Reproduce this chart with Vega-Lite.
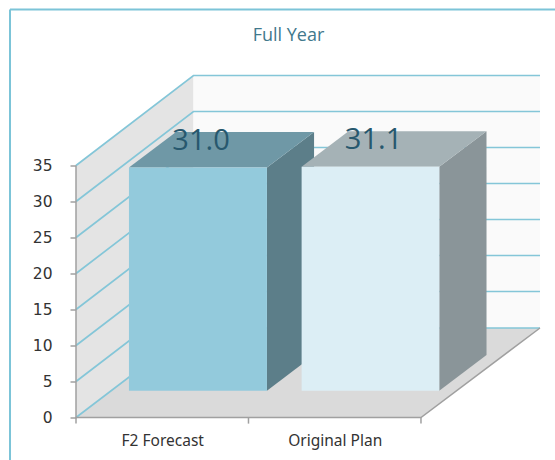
{
  "$schema": "https://vega.github.io/schema/vega-lite/v6.json",
  "width": 479,
  "height": 408,
  "autosize": "none",
  "padding": {"left": 76, "top": 9.5, "right": 0, "bottom": 42.5},
  "background": "white",
  "config": {"view": {"stroke": null}},
  "title": {
    "text": "Full Year",
    "font": "Open Sans",
    "fontSize": 18,
    "fontWeight": "normal",
    "color": "#41788c",
    "anchor": "middle",
    "frame": "group",
    "dx": -27,
    "offset": -37
  },
  "datasets": {
    "walls": [
      {"face": "side wall", "x": 0, "y": 0, "y2": 35},
      {"face": "side wall", "x": 0.681, "y": 12.43, "y2": 47.5},
      {"face": "back wall", "x": 0.681, "y": 12.43, "y2": 47.5},
      {"face": "back wall", "x": 2.69, "y": 12.43, "y2": 47.5}
    ],
    "floor": [
      {"face": "floor", "y": 0, "x": 0, "x2": 2},
      {"face": "floor", "y": 12.43, "x": 0.681, "x2": 2.69}
    ],
    "gridlines": [
      {"level": 0, "x": 0, "y": 0}, {"level": 0, "x": 0.681, "y": 12.43}, {"level": 0, "x": 2.69, "y": 12.43},
      {"level": 5, "x": 0, "y": 5}, {"level": 5, "x": 0.681, "y": 17.5}, {"level": 5, "x": 2.69, "y": 17.5},
      {"level": 10, "x": 0, "y": 10}, {"level": 10, "x": 0.681, "y": 22.5}, {"level": 10, "x": 2.69, "y": 22.5},
      {"level": 15, "x": 0, "y": 15}, {"level": 15, "x": 0.681, "y": 27.5}, {"level": 15, "x": 2.69, "y": 27.5},
      {"level": 20, "x": 0, "y": 20}, {"level": 20, "x": 0.681, "y": 32.5}, {"level": 20, "x": 2.69, "y": 32.5},
      {"level": 25, "x": 0, "y": 25}, {"level": 25, "x": 0.681, "y": 37.5}, {"level": 25, "x": 2.69, "y": 37.5},
      {"level": 30, "x": 0, "y": 30}, {"level": 30, "x": 0.681, "y": 42.5}, {"level": 30, "x": 2.69, "y": 42.5},
      {"level": 35, "x": 0, "y": 35}, {"level": 35, "x": 0.681, "y": 47.5}, {"level": 35, "x": 2.69, "y": 47.5}
    ],
    "axisEdges": [
      {"x": 0, "y": 35, "step": 1},
      {"x": 0, "y": 0, "step": 2},
      {"x": 2, "y": 0, "step": 3},
      {"x": 2.69, "y": 12.43, "step": 4}
    ],
    "categoryTicks": [
      {"x": 0, "y": 0, "y2": -0.85},
      {"x": 1, "y": 0, "y2": -0.85},
      {"x": 2, "y": 0, "y2": -0.85}
    ],
    "barSides": [
      {"face": "F2 Forecast side", "x": 1.107, "y": 3.72, "y2": 34.72},
      {"face": "F2 Forecast side", "x": 1.38, "y": 8.67, "y2": 39.67},
      {"face": "Original Plan side", "x": 2.106, "y": 3.72, "y2": 34.82},
      {"face": "Original Plan side", "x": 2.38, "y": 8.67, "y2": 39.77}
    ],
    "barTops": [
      {"face": "F2 Forecast top", "y": 34.72, "x": 0.307, "x2": 1.107},
      {"face": "F2 Forecast top", "y": 39.67, "x": 0.58, "x2": 1.38},
      {"face": "Original Plan top", "y": 34.82, "x": 1.308, "x2": 2.106},
      {"face": "Original Plan top", "y": 39.77, "x": 1.58, "x2": 2.38}
    ],
    "barFronts": [
      {"face": "F2 Forecast", "value": 31.0, "x": 0.307, "x2": 1.107, "y": 3.72, "y2": 34.72},
      {"face": "Original Plan", "value": 31.1, "x": 1.308, "x2": 2.106, "y": 3.72, "y2": 34.82}
    ],
    "valueLabels": [
      {"category": "F2 Forecast", "value": 31.0, "x": 0.725, "y": 37.15},
      {"category": "Original Plan", "value": 31.1, "x": 1.725, "y": 37.3}
    ],
    "frame": [
      {"x": -0.3826, "x2": -0.3826, "y": -6, "y2": 56.67},
      {"x": -0.3826, "x2": 2.777, "y": 56.67, "y2": 56.67}
    ]
  },
  "encoding": {
    "x": {
      "field": "x",
      "type": "quantitative",
      "scale": {"domain": [0, 2.777], "nice": false, "zero": false},
      "axis": {
        "title": null,
        "grid": false,
        "domain": false,
        "ticks": false,
        "values": [0.5, 1.5],
        "labelExpr": "datum.value < 1 ? 'F2 Forecast' : 'Original Plan'",
        "labelFont": "Noto Sans",
        "labelFontSize": 15.5,
        "labelColor": "#333333",
        "labelPadding": 16
      }
    },
    "y": {
      "field": "y",
      "type": "quantitative",
      "scale": {"domain": [0, 56.667], "nice": false, "zero": false},
      "axis": {
        "title": null,
        "grid": false,
        "domain": false,
        "values": [0, 5, 10, 15, 20, 25, 30, 35],
        "tickSize": 6,
        "tickColor": "#a0a0a0",
        "tickWidth": 1.5,
        "labelFont": "DejaVu Sans",
        "labelFontSize": 15.5,
        "labelColor": "#333333",
        "labelPadding": 18
      }
    },
    "color": {
      "field": "face",
      "type": "nominal",
      "legend": null,
      "scale": {
        "domain": [
          "side wall", "back wall", "floor",
          "F2 Forecast", "F2 Forecast top", "F2 Forecast side",
          "Original Plan", "Original Plan top", "Original Plan side"
        ],
        "range": [
          "#e4e4e4", "#fafafa", "#dadada",
          "#93cadc", "#6f98a6", "#5c7e89",
          "#dceef5", "#a5b2b6", "#8a9599"
        ]
      }
    }
  },
  "layer": [
    {
      "data": {"name": "walls"},
      "mark": {"type": "area", "orient": "vertical"},
      "encoding": {"y2": {"field": "y2"}}
    },
    {
      "data": {"name": "floor"},
      "mark": {"type": "area", "orient": "horizontal"},
      "encoding": {"x2": {"field": "x2"}}
    },
    {
      "data": {"name": "gridlines"},
      "mark": {"type": "line", "color": "#84c6d8", "strokeWidth": 1.7},
      "encoding": {"detail": {"field": "level"}, "color": {"value": "#84c6d8"}}
    },
    {
      "data": {"name": "axisEdges"},
      "mark": {"type": "line", "strokeWidth": 1.5},
      "encoding": {
        "order": {"field": "step"},
        "color": {"value": "#a0a0a0"}
      }
    },
    {
      "data": {"name": "categoryTicks"},
      "mark": {"type": "rule", "strokeWidth": 1.5},
      "encoding": {"y2": {"field": "y2"}, "color": {"value": "#a0a0a0"}}
    },
    {
      "data": {"name": "barSides"},
      "mark": {"type": "area", "orient": "vertical"},
      "encoding": {"y2": {"field": "y2"}}
    },
    {
      "data": {"name": "barTops"},
      "mark": {"type": "area", "orient": "horizontal"},
      "encoding": {"x2": {"field": "x2"}}
    },
    {
      "data": {"name": "barFronts"},
      "mark": {"type": "rect"},
      "encoding": {"x2": {"field": "x2"}, "y2": {"field": "y2"}}
    },
    {
      "data": {"name": "valueLabels"},
      "mark": {"type": "text", "font": "Open Sans", "fontSize": 29, "align": "center", "baseline": "alphabetic"},
      "encoding": {
        "text": {"field": "value", "type": "quantitative", "format": ".1f"},
        "color": {"value": "#27586e"}
      }
    },
    {
      "data": {"name": "frame"},
      "mark": {"type": "rule", "strokeWidth": 2},
      "encoding": {
        "x2": {"field": "x2"},
        "y2": {"field": "y2"},
        "color": {"value": "#7cc4d8"}
      }
    }
  ]
}
